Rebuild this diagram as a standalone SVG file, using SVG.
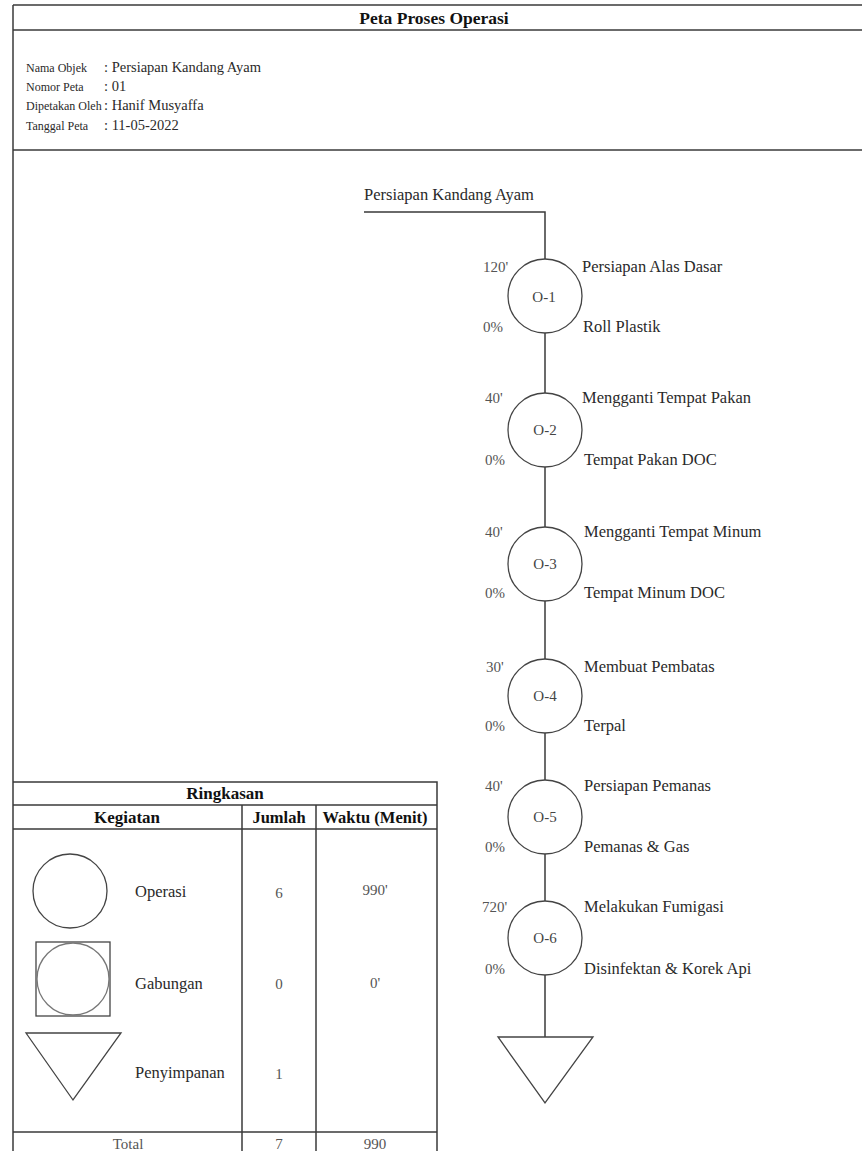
<svg xmlns="http://www.w3.org/2000/svg" width="862" height="1151" viewBox="0 0 862 1151">
<style>
.ln{stroke:#3a3a3a;stroke-width:1.5;fill:none}
.sh{stroke:#444;stroke-width:1.3;fill:#fff}
.t{font-family:"Liberation Serif","Times New Roman",serif;fill:#2a2a2a}
.tb{font-family:"Liberation Serif","Times New Roman",serif;fill:#111;font-weight:bold}
.info{font-size:14.5px}
.il{font-size:12px}
.lab{font-size:16.5px}
.num{font-size:15px;fill:#555}
.ci{font-size:15px;text-anchor:middle;fill:#444}
.c{text-anchor:middle}
</style>
<rect width="862" height="1151" fill="#fff"/>
<g id="frame">
<line class="ln" x1="13" y1="5" x2="862" y2="5"/>
<line class="ln" x1="13" y1="30" x2="862" y2="30"/>
<line class="ln" x1="13" y1="150" x2="862" y2="150"/>
<line class="ln" x1="13" y1="5" x2="13" y2="1151"/>
<text class="tb c" x="434" y="24" font-size="17.5">Peta Proses Operasi</text>
</g>
<g id="info" class="t info">
<text class="il" x="26" y="72">Nama Objek</text><text x="104" y="72">: Persiapan Kandang Ayam</text>
<text class="il" x="26" y="91">Nomor Peta</text><text x="104" y="91">: 01</text>
<text class="il" x="26" y="110">Dipetakan Oleh</text><text x="104" y="110">: Hanif Musyaffa</text>
<text class="il" x="26" y="130">Tanggal Peta</text><text x="104" y="130">: 11-05-2022</text>
</g>
<g id="connectors">
<polyline class="ln" points="364,212 545,212 545,259"/>
<line class="ln" x1="545" y1="333" x2="545" y2="393"/>
<line class="ln" x1="545" y1="467" x2="545" y2="527"/>
<line class="ln" x1="545" y1="601" x2="545" y2="659"/>
<line class="ln" x1="545" y1="733" x2="545" y2="780"/>
<line class="ln" x1="545" y1="854" x2="545" y2="901"/>
<line class="ln" x1="545" y1="975" x2="545" y2="1037"/>
</g>
<text class="t lab" x="364" y="200">Persiapan Kandang Ayam</text>
<g id="O1">
<circle class="sh" cx="545" cy="296" r="37"/>
<text class="t ci" x="544" y="302" font-size="17">O-1</text>
<text class="t num" x="483" y="272">120'</text><text class="t num" x="483" y="332">0%</text>
<text class="t lab" x="582" y="272">Persiapan Alas Dasar</text><text class="t lab" x="583" y="332">Roll Plastik</text>
</g>
<g id="O2">
<circle class="sh" cx="545" cy="430" r="37"/>
<text class="t ci" x="545" y="435">O-2</text>
<text class="t num" x="485" y="403">40'</text><text class="t num" x="485" y="465">0%</text>
<text class="t lab" x="582" y="403">Mengganti Tempat Pakan</text><text class="t lab" x="584" y="465">Tempat Pakan DOC</text>
</g>
<g id="O3">
<circle class="sh" cx="545" cy="564" r="37"/>
<text class="t ci" x="545" y="569">O-3</text>
<text class="t num" x="485" y="537">40'</text><text class="t num" x="485" y="598">0%</text>
<text class="t lab" x="584" y="537">Mengganti Tempat Minum</text><text class="t lab" x="584" y="598">Tempat Minum DOC</text>
</g>
<g id="O4">
<circle class="sh" cx="545" cy="696" r="37"/>
<text class="t ci" x="545" y="701">O-4</text>
<text class="t num" x="486" y="672">30'</text><text class="t num" x="485" y="731">0%</text>
<text class="t lab" x="584" y="672">Membuat Pembatas</text><text class="t lab" x="584" y="731">Terpal</text>
</g>
<g id="O5">
<circle class="sh" cx="545" cy="817" r="37"/>
<text class="t ci" x="545" y="822">O-5</text>
<text class="t num" x="485" y="791">40'</text><text class="t num" x="485" y="852">0%</text>
<text class="t lab" x="584" y="791">Persiapan Pemanas</text><text class="t lab" x="584" y="852">Pemanas &amp; Gas</text>
</g>
<g id="O6">
<circle class="sh" cx="545" cy="938" r="37"/>
<text class="t ci" x="545" y="943">O-6</text>
<text class="t num" x="482" y="912">720'</text><text class="t num" x="485" y="974">0%</text>
<text class="t lab" x="584" y="912">Melakukan Fumigasi</text><text class="t lab" x="584" y="974">Disinfektan &amp; Korek Api</text>
</g>
<g id="storage">
<polygon class="sh" points="498,1037 593,1037 545,1103"/>
</g>
<g id="summary">
<polyline class="ln" points="13,782 437,782 437,1151"/>
<line class="ln" x1="13" y1="805" x2="437" y2="805"/>
<line class="ln" x1="13" y1="829" x2="437" y2="829"/>
<line class="ln" x1="13" y1="1132" x2="437" y2="1132"/>
<line class="ln" x1="242" y1="805" x2="242" y2="1151"/>
<line class="ln" x1="316" y1="805" x2="316" y2="1151"/>
<text class="tb c" x="225" y="799" font-size="17">Ringkasan</text>
<text class="tb c" x="127" y="823" font-size="17">Kegiatan</text>
<text class="tb c" x="279" y="823" font-size="16.5">Jumlah</text>
<text class="tb c" x="375" y="823" font-size="16.5">Waktu (Menit)</text>
<circle class="sh" cx="70" cy="891" r="37"/>
<rect class="sh" x="36" y="942" width="74" height="74"/>
<circle cx="73" cy="979" r="36" fill="none" stroke="#777" stroke-width="1.3"/>
<polygon class="sh" points="26,1033 121,1033 73,1100"/>
<text class="t lab" x="135" y="897" font-size="17">Operasi</text>
<text class="t lab" x="135" y="989" font-size="17">Gabungan</text>
<text class="t lab" x="135" y="1078" font-size="17">Penyimpanan</text>
<text class="t num c" x="279" y="898">6</text>
<text class="t num c" x="279" y="989">0</text>
<text class="t num c" x="279" y="1079">1</text>
<text class="t num c" x="375" y="895">990'</text>
<text class="t num c" x="375" y="988">0'</text>
<text class="t num c" x="128" y="1149">Total</text>
<text class="t num c" x="279" y="1149">7</text>
<text class="t num c" x="375" y="1149">990</text>
</g>
</svg>
